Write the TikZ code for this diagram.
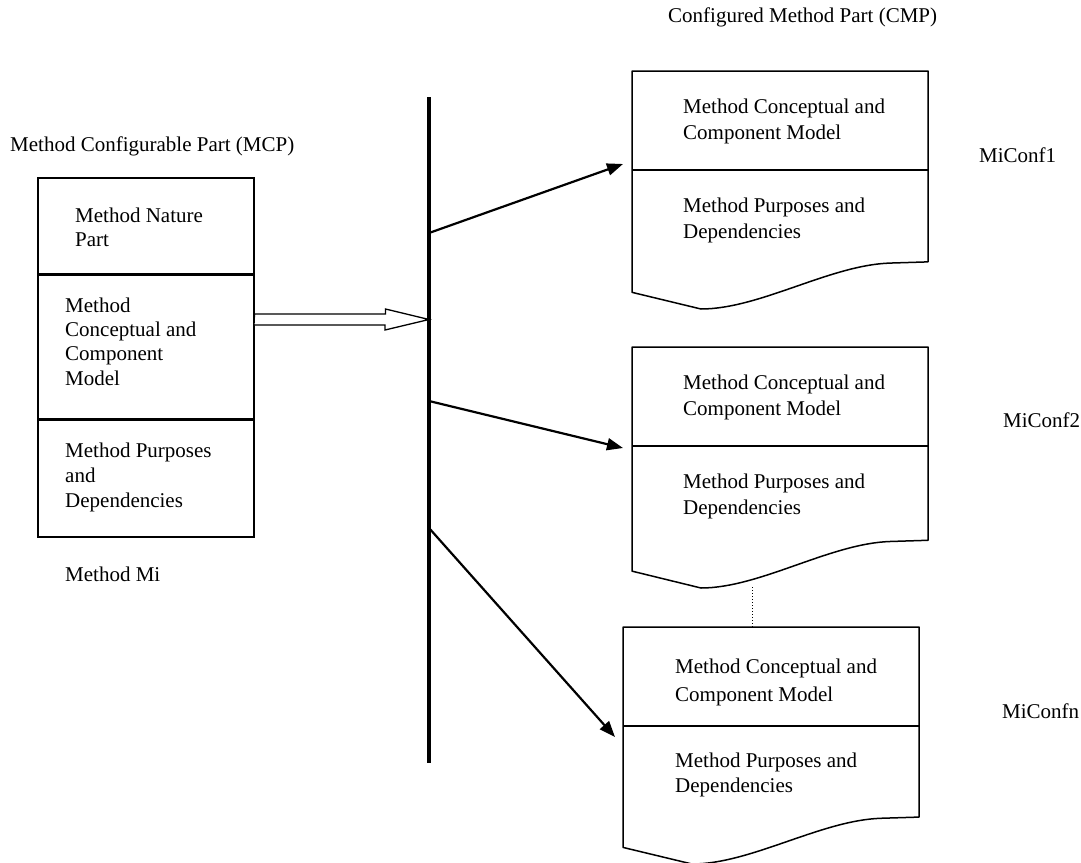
\documentclass[tikz,border=0pt]{standalone}
\usepackage{fontspec}
\setmainfont{Liberation Serif}
\usetikzlibrary{arrows.meta,calc}

% document-style shape with a wavy bottom: name, left, top, width, height, divider y
\newcommand\docshape[6]{%
  \coordinate (#1-nw) at (#2,#3);
  \draw[docline] (#2,#3) -- ({#2+#4},#3) -- ({#2+#4},{#3+0.802*#5})
    -- ({#2+0.872*#4},{#3+0.807*#5})
    .. controls ({#2+0.669*#4},{#3+0.815*#5}) and ({#2+0.432*#4},{#3+1.0*#5}) .. ({#2+0.233*#4},{#3+1.0*#5})
    -- (#2,{#3+0.93*#5}) -- cycle;
  \draw[docline] (#2,#6) -- ({#2+#4},#6);
}

\begin{document}
\begin{tikzpicture}[x=1pt,y=-1pt,
  boxpart/.style={draw, line width=1.5pt, inner sep=0, anchor=north west, minimum width=216pt},
  docline/.style={line width=1.5pt, line join=round},
  txt/.style={font=\fontsize{21}{25}\selectfont, align=left, anchor=north west, inner sep=0},
  doctxt/.style={txt, font=\fontsize{21}{26}\selectfont},
  lbl/.style={font=\fontsize{21}{25}\selectfont, anchor=base west, inner sep=0},
  flow/.style={line width=2.2pt, -{Triangle[length=16pt,width=12pt]}},
  hollow/.style={line width=1.3pt, fill=white, line join=miter}]
\useasboundingbox (0,0) rectangle (1081,862);

% configurable part of the method
\node[boxpart, minimum height=96pt] (mcpA) at (37,177) {};
\node[boxpart, minimum height=143pt] (mcpB) at (mcpA.south west) {};
\node[boxpart, minimum height=117pt] (mcpC) at (mcpB.south west) {};
\node[txt, font=\fontsize{21}{24}\selectfont] (tA) at (75,207.5) {Method Nature\\Part};
\node[txt, font=\fontsize{21}{24.3}\selectfont] (tB) at (65,297.5) {Method\\Conceptual and\\Component\\Model};
\node[txt] (tC) at (65,442.5) {Method Purposes\\and\\Dependencies};
\node[lbl] (mcpT) at (10,151) {Method Configurable Part (MCP)};
\node[lbl] (mi) at (65,581) {Method Mi};

% configuration bar
\coordinate (barT) at (429,97);
\coordinate (barB) at (429,763);
\draw[line width=3.5pt] (barT) -- (barB);

% hollow arrow from the configurable part to the bar
\coordinate (ha) at (mcpB.east |- 0,319.5);
\draw[hollow] (ha) ++(0,-5.5) -- ++(131,0) -- ++(0,-5) -- (barT |- ha) -- ++(-44,10.5) -- ++(0,-5) -- ++(-131,0) -- cycle;

% configured parts
\docshape{d1}{632}{71}{296}{238}{170}
\docshape{d2}{632}{347}{296}{241}{446}
\docshape{d3}{623}{627}{296}{237}{726}

\node[doctxt] (d1a) at (683,98.5) {Method Conceptual and\\Component Model};
\node[doctxt] (d1b) at (683,197.5) {Method Purposes and\\Dependencies};
\node[doctxt] (d2a) at (683,375) {Method Conceptual and\\Component Model};
\node[doctxt] (d2b) at (683,473.5) {Method Purposes and\\Dependencies};
\node[doctxt, font=\fontsize{21}{28}\selectfont] (d3a) at (675,658.5) {Method Conceptual and\\Component Model};
\node[doctxt, font=\fontsize{21}{25}\selectfont] (d3b) at (675,752.5) {Method Purposes and\\Dependencies};

\node[lbl] (cmpT) at (668,23) {Configured Method Part (CMP)};
\node[lbl] (c1) at (979,162) {MiConf1};
\node[lbl] (c2) at (1003,427) {MiConf2};
\node[lbl] (cn) at (1002,718) {MiConfn};

% arrows from the bar to each configuration
\coordinate (s1) at (barT |- 0,233);
\coordinate (s2) at (barT |- 0,401);
\coordinate (s3) at (barT |- 0,528);
\coordinate (e1) at (623,164);
\coordinate (e2) at (623,448);
\coordinate (e3) at (615,737);
\draw[flow] (s1) -- (e1);
\draw[flow] (s2) -- (e2);
\draw[flow] (s3) -- (e3);

% dotted link between the second and last configuration
\coordinate (dotA) at (752,587);
\draw[line width=1pt, dotted] (dotA) -- (dotA |- d3-nw);
\end{tikzpicture}
\end{document}
